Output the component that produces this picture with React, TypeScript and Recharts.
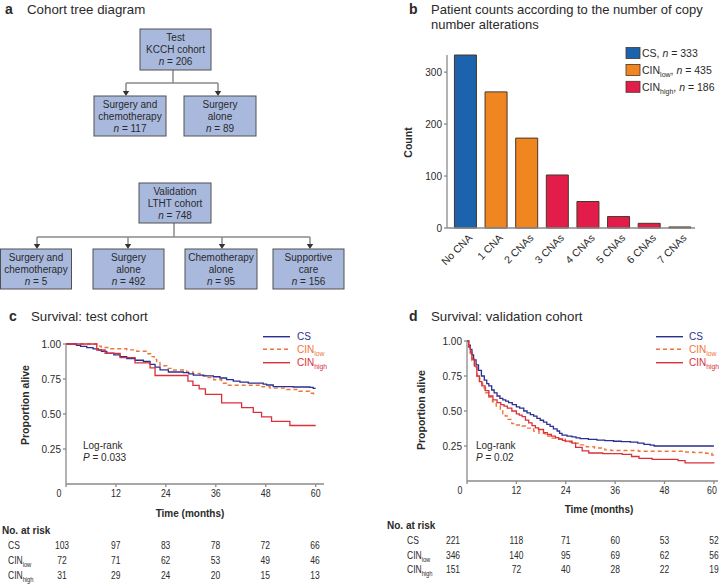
import React from 'react';
import { BarChart, Bar, Cell, XAxis, YAxis, LineChart, Line } from 'recharts';

const FONT = '"Liberation Sans", Arial, Helvetica, sans-serif';

// ---------- Panel b data ----------
const cnaCategories = ['No CNA', '1 CNA', '2 CNAs', '3 CNAs', '4 CNAs', '5 CNAs', '6 CNAs', '7 CNAs'];
const cnaCounts = [333, 262, 173, 102, 51, 22, 9, 2];
const cnaGroups = ['CS', 'CINlow', 'CINlow', 'CINhigh', 'CINhigh', 'CINhigh', 'CINhigh', 'CINhigh'];
const groupSizes = [333, 435, 186];
const countTicks = [0, 100, 200, 300];

// ---------- Panel c data (test cohort) ----------
const testCS: [number, number][] = [[0,1],[2.5,0.99],[3.5,0.983],[5,0.974],[6.5,0.965],[7.8,0.957],[8.5,0.947],[9.8,0.935],[11.5,0.922],[13,0.91],[14.6,0.895],[16.6,0.884],[18.6,0.875],[20.2,0.855],[21.4,0.835],[22.6,0.815],[24.6,0.8],[28.2,0.795],[29.5,0.787],[30.6,0.778],[33,0.772],[35.4,0.766],[37,0.757],[38.6,0.745],[40.2,0.735],[41.8,0.728],[43.8,0.72],[47.4,0.714],[48.2,0.707],[49.8,0.695],[54.6,0.693],[58.6,0.69],[59.4,0.683],[60,0.683]];
const testCINlow: [number, number][] = [[0,1],[7.4,0.985],[8.5,0.975],[10.6,0.966],[14.6,0.958],[17,0.948],[19.4,0.93],[20.5,0.91],[21.2,0.89],[21.8,0.865],[22.6,0.845],[24.2,0.826],[25.8,0.814],[29,0.8],[30.5,0.79],[32.2,0.775],[33.8,0.76],[35.5,0.745],[37.4,0.72],[38.6,0.705],[46.6,0.695],[49,0.685],[53,0.675],[56,0.662],[58.5,0.648],[59.5,0.636],[60,0.636]];
const testCINhigh: [number, number][] = [[0,1],[7.4,0.957],[9.4,0.933],[13,0.902],[16.6,0.865],[20.2,0.83],[21.4,0.775],[29.3,0.735],[30.5,0.705],[32,0.68],[33.5,0.64],[37.4,0.58],[42.2,0.545],[45,0.512],[47,0.48],[49.4,0.447],[53.8,0.418],[60,0.418]];

// ---------- Panel d data (validation cohort) ----------
const valCS: [number, number][] = [[0,1],[0.4,0.97],[0.8,0.94],[1.2,0.9],[1.6,0.865],[2.2,0.83],[2.8,0.79],[3.5,0.75],[4.2,0.72],[4.8,0.695],[5.3,0.68],[6,0.65],[6.6,0.63],[7.3,0.607],[8,0.59],[8.7,0.58],[9.4,0.57],[10.1,0.56],[11,0.545],[12,0.53],[12.8,0.52],[13.8,0.5],[14.6,0.486],[15.4,0.474],[16.2,0.464],[17,0.448],[17.8,0.434],[18.6,0.42],[19.4,0.405],[20.2,0.39],[21,0.373],[21.9,0.357],[22.5,0.34],[23.1,0.327],[24.3,0.32],[25.5,0.315],[26.5,0.308],[27.5,0.302],[29.5,0.297],[31.6,0.292],[33.5,0.288],[35.6,0.284],[37.5,0.281],[39.7,0.278],[41.5,0.27],[43,0.262],[44.5,0.256],[45.5,0.25],[60,0.25]];
const valCINlow: [number, number][] = [[0,1],[0.4,0.955],[0.8,0.91],[1.2,0.86],[1.8,0.81],[2.4,0.75],[3.1,0.7],[3.8,0.665],[4.5,0.63],[5.3,0.6],[6.2,0.565],[7.1,0.536],[8.1,0.5],[8.7,0.48],[9.3,0.464],[10,0.44],[10.9,0.41],[12,0.4],[13.4,0.393],[14.5,0.378],[16.2,0.357],[17.5,0.34],[19,0.321],[20.7,0.306],[22.3,0.298],[23.9,0.281],[24.6,0.279],[26,0.27],[27.5,0.258],[29,0.245],[31,0.236],[33.5,0.222],[35,0.218],[41.7,0.212],[52.3,0.207],[55,0.204],[58,0.198],[59.5,0.186],[60,0.186]];
const valCINhigh: [number, number][] = [[0,1],[0.4,0.96],[0.8,0.92],[1.2,0.87],[1.8,0.82],[2.4,0.75],[3,0.71],[3.6,0.68],[4.4,0.645],[5.3,0.607],[6.3,0.58],[7.3,0.56],[8.2,0.545],[9,0.535],[9.8,0.52],[10.9,0.5],[12,0.48],[12.7,0.47],[13.4,0.46],[14.2,0.435],[15,0.415],[15.8,0.395],[16.6,0.38],[17.4,0.368],[18.6,0.345],[19.5,0.333],[20.5,0.32],[21.5,0.31],[22.3,0.3],[23.2,0.29],[23.9,0.285],[25.5,0.27],[26.4,0.24],[28,0.215],[29.6,0.2],[33,0.195],[37.7,0.19],[40,0.175],[41.8,0.162],[45,0.155],[51.3,0.145],[53,0.13],[60,0.126]];

// ---------- Risk tables ----------
const riskTimes = [0, 12, 24, 36, 48, 60];
const testRiskCS = [103, 97, 83, 78, 72, 66];
const testRiskLow = [72, 71, 62, 53, 49, 46];
const testRiskHigh = [31, 29, 24, 20, 15, 13];
const valRiskCS = [221, 118, 71, 60, 53, 52];
const valRiskLow = [346, 140, 95, 69, 62, 56];
const valRiskHigh = [151, 72, 40, 28, 22, 19];
const survTicks = [0.25, 0.5, 0.75, 1];

const BAR_COLORS: Record<string, string> = { CS: '#1c63ad', CINlow: '#f0861f', CINhigh: '#e31d49' };
const LINE_CS = '#2b2f90';
const LINE_LOW = '#ee7438';
const LINE_HIGH = '#d9303a';
const AXIS = '#8a8a8a';
const TXT = '#2a2a2a';

const toRows = (arr: [number, number][]) => arr.map(([t, s]) => ({ t, s }));

const barData = cnaCategories.map((c, i) => ({ cat: c, count: cnaCounts[i], group: cnaGroups[i] }));

const BarXTick = (p: any) => (
  <text
    transform={`translate(${p.x + 5},${p.y + 6}) rotate(-45)`}
    textAnchor="end"
    dy="0.35em"
    fontSize={10.5}
    fill={TXT}
    fontFamily={FONT}
  >
    {p.payload.value}
  </text>
);

const PlainYTick = (p: any) => (
  <text x={p.x} y={p.y} dy="0.355em" textAnchor="end" fontSize={10} fill={TXT} fontFamily={FONT}>
    {p.payload.value}
  </text>
);

const SurvYTick = (p: any) => (
  <text x={p.x} y={p.y} dy="0.355em" textAnchor="end" fontSize={10} fill={TXT} fontFamily={FONT}>
    {Number(p.payload.value).toFixed(2)}
  </text>
);

const SurvXTick = (p: any) => {
  const v = p.payload.value;
  const dx = v === 0 ? -7 : 0;
  return (
    <g transform={`translate(${p.x + dx},${p.y})`}>
      <text x={0} y={0} dy="0.71em" textAnchor="middle" fontSize={10} fill={TXT} fontFamily={FONT} transform="scale(0.88,1)">
        {v}
      </text>
    </g>
  );
};

const SurvChart = ({ series, xMax, width, height, yWidth, right }: any) => (
  <LineChart width={width} height={height} margin={{ top: 14, right, bottom: 0, left: 0 }}>
    <XAxis
      type="number"
      dataKey="t"
      domain={[0, xMax]}
      ticks={riskTimes}
      allowDataOverflow
      height={16}
      tickSize={3}
      tickMargin={3}
      stroke={AXIS}
      strokeWidth={1.3}
      tick={<SurvXTick />}
    />
    <YAxis
      type="number"
      domain={[0, 1]}
      ticks={survTicks}
      width={yWidth}
      tickSize={3}
      tickMargin={2}
      stroke={AXIS}
      strokeWidth={1.3}
      tick={<SurvYTick />}
    />
    <Line data={toRows(series[1])} dataKey="s" type="stepAfter" stroke={LINE_LOW} strokeWidth={1.4} strokeDasharray="4 3" dot={false} isAnimationActive={false} />
    <Line data={toRows(series[0])} dataKey="s" type="stepAfter" stroke={LINE_CS} strokeWidth={1.3} dot={false} isAnimationActive={false} />
    <Line data={toRows(series[2])} dataKey="s" type="stepAfter" stroke={LINE_HIGH} strokeWidth={1.3} dot={false} isAnimationActive={false} />
  </LineChart>
);

const Box = ({ x, y, w, h, lines }: { x: number; y: number; w: number; h: number; lines: string[] }) => {
  const cx = x + w / 2;
  const cy = y + h / 2;
  return (
    <g>
      <rect x={x} y={y} width={w} height={h} fill="#a9b9de" stroke="#505050" strokeWidth={1} />
      {lines.map((l, i) => {
        const by = cy + (i - 1) * 12 + 3.5;
        if (l.startsWith('n = ')) {
          return (
            <text key={i} x={cx} y={by} textAnchor="middle" fontSize={10} fill={TXT}>
              <tspan fontStyle="italic">n</tspan>
              {l.slice(1)}
            </text>
          );
        }
        return (
          <text key={i} x={cx} y={by} textAnchor="middle" fontSize={10} fill={TXT}>
            {l}
          </text>
        );
      })}
    </g>
  );
};

const Arrow = ({ x, y1, y2 }: { x: number; y1: number; y2: number }) => (
  <g>
    <line x1={x} y1={y1} x2={x} y2={y2 - 4} stroke="#8a8a8a" strokeWidth={1.5} />
    <polygon points={`${x - 3.2},${y2 - 5} ${x + 3.2},${y2 - 5} ${x},${y2}`} fill="#333" />
  </g>
);

const CinLabel = ({ x, y, sub, size = 10, fill = TXT, anchor = 'start', extra }: any) => (
  <text x={x} y={y} fontSize={size} fill={fill} textAnchor={anchor}>
    CIN
    <tspan fontSize={size * 0.68} dy={3}>{sub}</tspan>
    {extra ? <tspan dy={-3}>{extra}</tspan> : null}
  </text>
);

const RiskTable = ({ x0, scale, firstDx, labelX, titleX, rowsY, values }: any) => {
  const labels = ['CS', 'low', 'high'];
  return (
    <g>
      <text x={titleX} y={rowsY[0] - 15 + 3.5} fontSize={10} fontWeight="bold" fill={TXT}>
        No. at risk
      </text>
      {values.map((row: number[], r: number) => (
        <g key={r}>
          <g transform={`translate(${labelX},${rowsY[r] + 3.5}) scale(0.85,1)`}>
            {r === 0 ? (
              <text x={0} y={0} fontSize={10} fill={TXT}>CS</text>
            ) : (
              <CinLabel x={0} y={0} sub={labels[r]} />
            )}
          </g>
          {row.map((v, i) => (
            <g key={i} transform={`translate(${x0 + riskTimes[i] * scale + (i === 0 ? firstDx : 0)},${rowsY[r] + 3.5}) scale(0.85,1)`}>
              <text x={0} y={0} textAnchor="middle" fontSize={10} fill={TXT}>
                {v}
              </text>
            </g>
          ))}
        </g>
      ))}
    </g>
  );
};

const SurvLegend = ({ x, textX }: { x: number; textX: number }) => (
  <g>
    <line x1={x} y1={336.7} x2={x + 27} y2={336.7} stroke={LINE_CS} strokeWidth={1.4} />
    <line x1={x} y1={349.3} x2={x + 27} y2={349.3} stroke={LINE_LOW} strokeWidth={1.4} strokeDasharray="4 3" />
    <line x1={x} y1={362.7} x2={x + 27} y2={362.7} stroke={LINE_HIGH} strokeWidth={1.4} />
    <text x={textX} y={340.3} fontSize={10} fill={LINE_CS}>CS</text>
    <CinLabel x={textX} y={352.8} sub="low" fill={LINE_LOW} />
    <CinLabel x={textX} y={366.2} sub="high" fill={LINE_HIGH} />
  </g>
);

export default function App() {
  return (
    <div
      style={{
        position: 'absolute',
        left: 0,
        top: 0,
        width: 728,
        height: 584,
        background: '#fff',
        fontFamily: FONT,
        overflow: 'hidden',
      }}
    >
      {/* Panel b bar chart */}
      <div style={{ position: 'absolute', left: 364, top: 0 }}>
        <BarChart width={341} height={300} data={barData} margin={{ top: 55, right: 10, bottom: 0, left: 0 }} barCategoryGap="14.5%">
          <XAxis
            dataKey="cat"
            interval={0}
            tickLine={false}
            tickSize={0}
            height={72}
            padding={{ left: 3, right: 0 }}
            stroke={AXIS}
            strokeWidth={1.3}
            tick={<BarXTick />}
          />
          <YAxis
            type="number"
            domain={[0, 333]}
            ticks={countTicks}
            width={83}
            tickSize={3}
            tickMargin={2}
            stroke={AXIS}
            strokeWidth={1.3}
            tick={<PlainYTick />}
          />
          <Bar dataKey="count" stroke="#4a3526" strokeWidth={1} isAnimationActive={false}>
            {barData.map((d, i) => (
              <Cell key={i} fill={BAR_COLORS[d.group]} />
            ))}
          </Bar>
        </BarChart>
      </div>

      {/* Panel c */}
      <div style={{ position: 'absolute', left: 0, top: 330 }}>
        <SurvChart series={[testCS, testCINlow, testCINhigh]} xMax={62} width={340} height={170} yWidth={66} right={16} />
      </div>

      {/* Panel d */}
      <div style={{ position: 'absolute', left: 400, top: 327 }}>
        <SurvChart series={[valCS, valCINlow, valCINhigh]} xMax={61} width={320} height={170} yWidth={67} right={2} />
      </div>

      <svg
        width={728}
        height={584}
        style={{ position: 'absolute', left: 0, top: 0, pointerEvents: 'none' }}
        fontFamily={FONT}
      >
        {/* Titles */}
        <text x={5} y={14} fontSize={14} fontWeight="bold" fill={TXT}>a</text>
        <text x={27} y={14} fontSize={13.3} fill={TXT}>Cohort tree diagram</text>
        <text x={409} y={13.5} fontSize={14} fontWeight="bold" fill={TXT}>b</text>
        <text x={431} y={13.5} fontSize={13} fill={TXT}>Patient counts according to the number of copy</text>
        <text x={431} y={28.5} fontSize={13} fill={TXT}>number alterations</text>
        <text x={9} y={321} fontSize={14} fontWeight="bold" fill={TXT}>c</text>
        <text x={31} y={321} fontSize={13.3} fill={TXT}>Survival: test cohort</text>
        <text x={409} y={321} fontSize={14} fontWeight="bold" fill={TXT}>d</text>
        <text x={431} y={321} fontSize={13.3} fill={TXT}>Survival: validation cohort</text>

        {/* Tree diagram */}
        <line x1={173} y1={70} x2={173} y2={83} stroke="#8a8a8a" strokeWidth={1.5} />
        <line x1={126} y1={83} x2={218} y2={83} stroke="#8a8a8a" strokeWidth={1.5} />
        <Arrow x={126} y1={83} y2={96} />
        <Arrow x={218} y1={83} y2={96} />
        <Box x={140} y={29} w={71} h={41} lines={['Test', 'KCCH cohort', 'n = 206']} />
        <Box x={94} y={96} w={72} h={40} lines={['Surgery and', 'chemotherapy', 'n = 117']} />
        <Box x={184} y={96} w={72} h={40} lines={['Surgery', 'alone', 'n = 89']} />

        <line x1={174} y1={223} x2={174} y2={237} stroke="#8a8a8a" strokeWidth={1.5} />
        <line x1={37} y1={237} x2={310} y2={237} stroke="#8a8a8a" strokeWidth={1.5} />
        <Arrow x={37} y1={237} y2={249} />
        <Arrow x={128} y1={237} y2={249} />
        <Arrow x={222} y1={237} y2={249} />
        <Arrow x={310} y1={237} y2={249} />
        <Box x={139} y={183} w={72} h={40} lines={['Validation', 'LTHT cohort', 'n = 748']} />
        <Box x={0.5} y={249} w={71} h={40} lines={['Surgery and', 'chemotherapy', 'n = 5']} />
        <Box x={93} y={249} w={71} h={40} lines={['Surgery', 'alone', 'n = 492']} />
        <Box x={185} y={249} w={72} h={40} lines={['Chemotherapy', 'alone', 'n = 95']} />
        <Box x={273} y={249} w={71} h={40} lines={['Supportive', 'care', 'n = 156']} />

        {/* Panel b extras */}
        <text transform="translate(411.5,142.5) rotate(-90)" textAnchor="middle" fontSize={10.5} fontWeight="bold" fill={TXT}>
          Count
        </text>
        {['CS', 'CINlow', 'CINhigh'].map((g, i) => {
          const cy = 53 + i * 16.9;
          return (
            <g key={g}>
              <rect x={626} y={cy - 5.5} width={14} height={11} fill={BAR_COLORS[g]} stroke="#4a3526" strokeWidth={0.8} />
              {g === 'CS' ? (
                <text x={642} y={cy + 3.8} fontSize={10.5} fill={TXT}>
                  CS, <tspan fontStyle="italic">n</tspan> = {groupSizes[i]}
                </text>
              ) : (
                <text x={642} y={cy + 3.8} fontSize={10.5} fill={TXT}>
                  CIN
                  <tspan fontSize={7} dy={3}>{g === 'CINlow' ? 'low' : 'high'}</tspan>
                  <tspan dy={-3}>, </tspan>
                  <tspan fontStyle="italic">n</tspan>
                  <tspan> = {groupSizes[i]}</tspan>
                </text>
              )}
            </g>
          );
        })}

        {/* Panel c extras */}
        <text transform="translate(28.5,405) rotate(-90)" textAnchor="middle" fontSize={10.5} fontWeight="bold" fill={TXT}>
          Proportion alive
        </text>
        <text x={83} y={449.3} fontSize={10} fill={TXT}>Log-rank</text>
        <text x={83} y={461} fontSize={10} fill={TXT}>
          <tspan fontStyle="italic">P</tspan> = 0.033
        </text>
        <SurvLegend x={263} textX={297} />
        <text x={190} y={516.5} textAnchor="middle" fontSize={10} fontWeight="bold" fill={TXT}>
          Time (months)
        </text>
        <RiskTable
          x0={66}
          scale={4.15}
          firstDx={-4}
          labelX={8}
          titleX={2}
          rowsY={[545, 560, 575]}
          values={[testRiskCS, testRiskLow, testRiskHigh]}
        />

        {/* Panel d extras */}
        <text transform="translate(424.5,410) rotate(-90)" textAnchor="middle" fontSize={10.5} fontWeight="bold" fill={TXT}>
          Proportion alive
        </text>
        <text x={476} y={449.3} fontSize={10} fill={TXT}>Log-rank</text>
        <text x={476} y={461.3} fontSize={10} fill={TXT}>
          <tspan fontStyle="italic">P</tspan> = 0.02
        </text>
        <SurvLegend x={656} textX={689} />
        <text x={599} y={512.5} textAnchor="middle" fontSize={10} fontWeight="bold" fill={TXT}>
          Time (months)
        </text>
        <RiskTable
          x0={467}
          scale={4.115}
          firstDx={-14}
          labelX={407}
          titleX={387}
          rowsY={[540, 555, 569]}
          values={[valRiskCS, valRiskLow, valRiskHigh]}
        />
      </svg>
    </div>
  );
}
